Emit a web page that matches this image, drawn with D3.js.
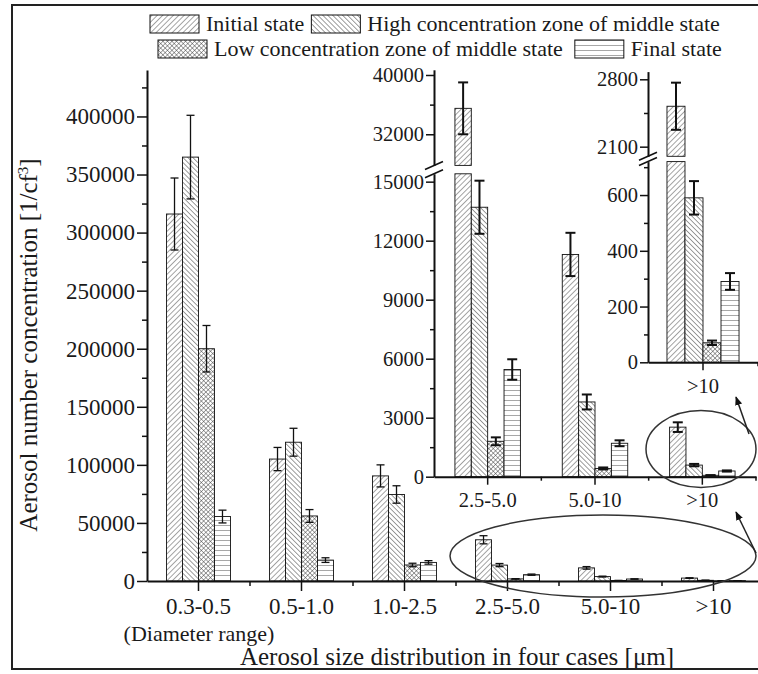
<!DOCTYPE html>
<html>
<head>
<meta charset="utf-8">
<script src="https://cdn.jsdelivr.net/npm/d3@7"></script>
<style>
  body { margin: 0; background: #fff; }
  svg text { font-family: "Liberation Serif", "Times New Roman", serif; fill: #1a1a1a; }
</style>
</head>
<body>
<script>
const WIDTH = 758;
const HEIGHT = 674;

// categories and series
const CATEGORIES = ["0.3-0.5", "0.5-1.0", "1.0-2.5", "2.5-5.0", "5.0-10", ">10"];
const SERIES = ["Initial state", "High concentration zone of middle state",
  "Low concentration zone of middle state", "Final state"];

// values (1/cf3)
const INITIAL = [316000, 105000, 90500, 35500, 11300, 2520];
const HIGH = [365000, 119500, 74500, 13700, 3800, 590];
const LOW = [200000, 56000, 13800, 1800, 420, 70];
const FINAL = [55500, 18000, 16000, 5450, 1700, 290];

const INITIAL_ERR = [31000, 10000, 9500, 3500, 1100, 245];
const HIGH_ERR = [36000, 12000, 7500, 1350, 380, 60];
const LOW_ERR = [20000, 5500, 1500, 200, 50, 8];
const FINAL_ERR = [5500, 2000, 1500, 520, 150, 30];

// tick values
const MAIN_TICKS = [0, 50000, 100000, 150000, 200000, 250000, 300000, 350000, 400000];
const MAIN_MINOR = [25000, 75000, 125000, 175000, 225000, 275000, 325000, 375000, 425000];
const INSET1_LOW_TICKS = [0, 3000, 6000, 9000, 12000, 15000];
const INSET1_LOW_MINOR = [1500, 4500, 7500, 10500, 13500];
const INSET1_HIGH_TICKS = [32000, 40000];
const INSET1_HIGH_MINOR = [36000];
const INSET2_LOW_TICKS = [0, 200, 400, 600];
const INSET2_LOW_MINOR = [100, 300, 500, 700];
const INSET2_HIGH_TICKS = [2100, 2800];
const INSET2_HIGH_MINOR = [2450];

const VALUES = [INITIAL, HIGH, LOW, FINAL];
const ERRORS = [INITIAL_ERR, HIGH_ERR, LOW_ERR, FINAL_ERR];

var svg = d3.select("body").append("svg")
  .attr("width", WIDTH)
  .attr("height", HEIGHT);

svg.append("rect").attr("width", WIDTH).attr("height", HEIGHT).attr("fill", "#fff");

// hatch patterns
var defs = svg.append("defs");
function hatch(id, size, angle, color, sw) {
  var p = defs.append("pattern").attr("id", id)
    .attr("patternUnits", "userSpaceOnUse")
    .attr("width", size).attr("height", size)
    .attr("patternTransform", "rotate(" + angle + ")");
  p.append("rect").attr("width", size).attr("height", size).attr("fill", "#fff");
  p.append("line").attr("x1", 0).attr("y1", 0).attr("x2", 0).attr("y2", size)
    .attr("stroke", color).attr("stroke-width", sw);
  return p;
}
hatch("pat0", 3.8, 45, "#4a4a4a", 1);
hatch("pat1", 3.5, -45, "#3c3c3c", 1);
var cross = hatch("pat2", 3.2, 45, "#3c3c3c", 0.9);
cross.append("line").attr("x1", 0).attr("y1", 0).attr("x2", 3.2).attr("y2", 0)
  .attr("stroke", "#3c3c3c").attr("stroke-width", 0.9);
hatch("pat3", 5, 90, "#3c3c3c", 0.9);

defs.append("marker").attr("id", "arrow")
  .attr("viewBox", "0 0 10 10").attr("refX", 9).attr("refY", 5)
  .attr("markerWidth", 9).attr("markerHeight", 9).attr("orient", "auto")
  .attr("markerUnits", "userSpaceOnUse")
  .append("path").attr("d", "M0,1 L10,5 L0,9 Z").attr("fill", "#111");

// scales
var yMain = d3.scaleLinear().domain([0, 440000]).range([581, 70]);
var y1Low = d3.scaleLinear().domain([0, 15400]).range([476.7, 173.8]);
var y1High = d3.scaleLinear().domain([27800, 40700]).range([165.4, 69.8]);
var y2Low = d3.scaleLinear().domain([0, 720]).range([362.3, 161.6]);
var y2High = d3.scaleLinear().domain([2000, 2880]).range([156.3, 71.6]);

var panels = [
  { cats: CATEGORIES, xRange: [147, 765], pad: 0.379, axisX: 147, tickFont: 23, labelFont: 23,
    major: 10, minor: 5, cap: 8, errW: 1.3, labelPad: 7,
    segments: [{ y: yMain, d0: 0, d1: 440000, ticks: MAIN_TICKS, minorTicks: MAIN_MINOR }] },
  { cats: CATEGORIES.slice(3), xRange: [434, 756], pad: 0.39, axisX: 434, tickFont: 20.5, labelFont: 20.5,
    major: 8, minor: 4, cap: 10, errW: 2, labelPad: 8,
    segments: [
      { y: y1Low, d0: 0, d1: 15400, ticks: INSET1_LOW_TICKS, minorTicks: INSET1_LOW_MINOR },
      { y: y1High, d0: 27800, d1: 40700, ticks: INSET1_HIGH_TICKS, minorTicks: INSET1_HIGH_MINOR }] },
  { cats: CATEGORIES.slice(5), xRange: [648, 758], pad: 0.345, axisX: 648, tickFont: 20.5, labelFont: 20.5,
    major: 8, minor: 4, cap: 10, errW: 2, labelPad: 8,
    segments: [
      { y: y2Low, d0: 0, d1: 720, ticks: INSET2_LOW_TICKS, minorTicks: INSET2_LOW_MINOR },
      { y: y2High, d0: 2000, d1: 2880, ticks: INSET2_HIGH_TICKS, minorTicks: INSET2_HIGH_MINOR }] }
];

function styleAxis(g, size) {
  g.attr("font-family", null).attr("font-size", null);
  g.selectAll("text").style("font-size", size + "px").attr("fill", "#1a1a1a");
  g.selectAll("path, line").attr("stroke", "#111");
  g.select(".domain").attr("stroke-width", 2);
  g.selectAll(".tick line").attr("stroke-width", 1.5);
}

function drawPanel(p) {
  var g = svg.append("g");
  var x0 = d3.scaleBand().domain(p.cats).range(p.xRange)
    .paddingInner(p.pad).paddingOuter(p.pad / 2);
  var x1 = d3.scaleBand().domain(d3.range(SERIES.length)).range([0, x0.bandwidth()]);
  var base = p.segments[0].y(0);

  var rows = p.cats.flatMap(c => {
    var i = CATEGORIES.indexOf(c);
    return SERIES.map((s, k) => ({ c: c, k: k, v: VALUES[k][i], e: ERRORS[k][i] }));
  });

  // bars, split over axis breaks
  p.segments.forEach(seg => {
    g.selectAll(null)
      .data(rows.filter(d => d.v > seg.d0))
      .enter()
      .append("rect")
      .attr("x", d => x0(d.c) + x1(d.k))
      .attr("width", x1.bandwidth())
      .attr("y", d => seg.y(Math.min(d.v, seg.d1)))
      .attr("height", d => seg.y(seg.d0) - seg.y(Math.min(d.v, seg.d1)))
      .attr("fill", d => "url(#pat" + d.k + ")")
      .attr("stroke", "#111")
      .attr("stroke-width", 0.9);
  });

  // error bars
  rows.forEach(d => {
    var seg = p.segments.find(s => d.v >= s.d0 && d.v <= s.d1);
    var cx = x0(d.c) + x1(d.k) + x1.bandwidth() / 2;
    var yt = seg.y(Math.min(d.v + d.e, seg.d1));
    var yb = seg.y(Math.max(d.v - d.e, seg.d0));
    var eg = g.append("g").attr("stroke", "#111").attr("stroke-width", p.errW);
    eg.append("line").attr("x1", cx).attr("x2", cx).attr("y1", yt).attr("y2", yb);
    [yt, yb].forEach(yy => eg.append("line")
      .attr("x1", cx - p.cap / 2).attr("x2", cx + p.cap / 2).attr("y1", yy).attr("y2", yy));
  });

  // y axes
  p.segments.forEach(seg => {
    var ay = g.append("g").attr("transform", "translate(" + p.axisX + ",0)")
      .call(d3.axisLeft(seg.y).tickValues(seg.ticks).tickSize(p.major).tickSizeOuter(0)
        .tickPadding(2).tickFormat(d3.format("d")));
    styleAxis(ay, p.tickFont);
    var am = g.append("g").attr("transform", "translate(" + p.axisX + ",0)")
      .call(d3.axisLeft(seg.y).tickValues(seg.minorTicks).tickSize(p.minor).tickFormat(""));
    am.select(".domain").remove();
    styleAxis(am, p.tickFont);
  });

  // x axis
  var ax = g.append("g").attr("transform", "translate(0," + base + ")")
    .call(d3.axisBottom(x0).tickSize(p.major).tickSizeOuter(0).tickPadding(p.labelPad));
  styleAxis(ax, p.labelFont);
  var gap = (x0.step() - x0.bandwidth()) / 2;
  g.selectAll(null)
    .data(p.cats)
    .enter()
    .append("line")
    .attr("x1", d => x0(d) + x0.bandwidth() + gap)
    .attr("x2", d => x0(d) + x0.bandwidth() + gap)
    .attr("y1", base).attr("y2", base + p.minor)
    .attr("stroke", "#111").attr("stroke-width", 1.5);
  return g;
}

panels.forEach(drawPanel);

// axis break marks
function breakMark(x, yLow, yHigh) {
  [yLow, yHigh].forEach(yy => svg.append("line")
    .attr("x1", x - 9).attr("y1", yy + 4).attr("x2", x + 9).attr("y2", yy - 4)
    .attr("stroke", "#111").attr("stroke-width", 1.6));
}
breakMark(434, y1Low(15400), y1High(27800));
breakMark(648, y2Low(720), y2High(2000));

// extra label under main first category
svg.append("text").attr("x", 199).attr("y", 641).attr("text-anchor", "middle")
  .style("font-size", "22px").text("(Diameter range)");

// axis titles
svg.append("text").attr("x", 457).attr("y", 665).attr("text-anchor", "middle")
  .style("font-size", "25px").text("Aerosol size distribution in four cases [\u03bcm]");

var yt = svg.append("text").attr("transform", "translate(37,345) rotate(-90)")
  .attr("text-anchor", "middle").style("font-size", "25px");
yt.append("tspan").text("Aerosol number concentration [1/cf");
yt.append("tspan").attr("dy", -9).style("font-size", "15px").text("3");
yt.append("tspan").attr("dy", 9).text("]");

// ellipses and arrows
svg.append("ellipse").attr("cx", 603).attr("cy", 556).attr("rx", 153).attr("ry", 41)
  .attr("fill", "none").attr("stroke", "#333").attr("stroke-width", 1.5);
svg.append("ellipse").attr("cx", 701).attr("cy", 449).attr("rx", 55).attr("ry", 38.5)
  .attr("fill", "none").attr("stroke", "#333").attr("stroke-width", 1.5);
svg.append("line").attr("x1", 756).attr("y1", 553).attr("x2", 736).attr("y2", 512)
  .attr("stroke", "#222").attr("stroke-width", 1.5).attr("marker-end", "url(#arrow)");
svg.append("line").attr("x1", 749).attr("y1", 434).attr("x2", 736).attr("y2", 397)
  .attr("stroke", "#222").attr("stroke-width", 1.5).attr("marker-end", "url(#arrow)");

// legend
var legendRows = [
  { start: 150, y: 15, gap: 7, items: [0, 1] },
  { start: 158, y: 40, gap: 12, items: [2, 3] }
];
var legend = svg.append("g");
legendRows.forEach(r => {
  var x = r.start;
  r.items.forEach(k => {
    legend.append("rect").attr("x", x).attr("y", r.y).attr("width", 49).attr("height", 18)
      .attr("fill", "url(#pat" + k + ")").attr("stroke", "#111").attr("stroke-width", 1);
    var t = legend.append("text").attr("x", x + 56).attr("y", r.y + 16)
      .style("font-size", "22px").text(SERIES[k]);
    x += 56 + t.node().getComputedTextLength() + r.gap;
  });
});

// outer frame
svg.append("rect").attr("x", 12).attr("y", 5).attr("width", 790).attr("height", 664)
  .attr("fill", "none").attr("stroke", "#222").attr("stroke-width", 2);
</script>
</body>
</html>
